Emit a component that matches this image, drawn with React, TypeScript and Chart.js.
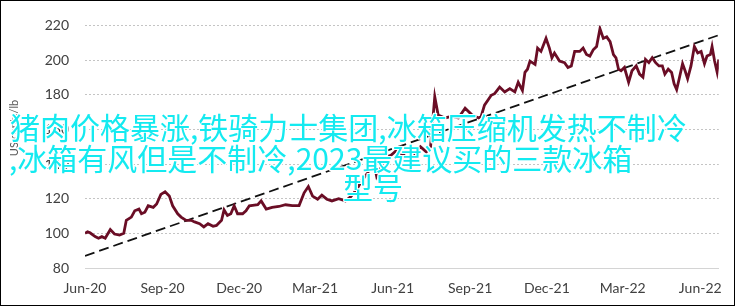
import React, { useEffect, useRef } from "react";
import { Chart, registerables } from "chart.js";

Chart.register(...registerables);

// Days since 1 Jun 2020 for each observation
const dayOffsets = [
  0, 3, 6, 12, 16, 20, 24, 30, 35, 41, 46, 49, 55, 59, 64, 67, 71, 75, 81, 85,
  90, 95, 100, 104, 110, 114, 120, 126, 130, 136, 141, 146, 152, 156, 162, 165, 169, 173, 177, 181,
  187, 191, 195, 201, 205, 209, 215, 222, 230, 238, 246, 254, 260, 265, 270, 276, 281, 287, 293, 301,
  309, 315, 322, 328, 335, 339, 343, 346, 351, 356, 363, 370, 377, 384, 391, 398, 405, 410, 415, 419,
  427, 435, 443, 451, 459, 467, 470, 474, 482, 486, 492, 498, 504, 510, 514, 519, 522, 525, 528, 534,
  537, 541, 547, 551, 554, 557, 563, 569, 573, 577, 581, 587, 591, 595, 599, 603, 607, 611, 615, 619,
  623, 627, 630, 633, 636, 640, 645, 649, 654, 658, 662, 665, 669, 673, 677, 681, 685, 688, 692, 696,
  699, 702, 705, 709, 712, 715, 719, 723, 727, 731, 735, 738, 742, 744, 747, 750, 752,
];

// Price, US cents/lb
const priceValues = [
  100, 100.9, 100.3, 98.1, 97.2, 98.1, 97.2, 102.2, 99.6, 99, 100, 107.5, 109.4, 113, 114, 111.3, 112.2, 115.9, 115, 116.9,
  122.5, 124, 121.6, 115.9, 111.3, 109.4, 107.5, 107.5, 106.6, 105.6, 103.7, 105.6, 104.1, 104.6, 107.5, 113.5, 110.3, 111.3, 115.9, 111.3,
  111.3, 113, 115.9, 116.3, 116.5, 118.7, 114, 115, 115.5, 116.5, 116, 116, 123.4, 127, 121.5, 119.7, 122, 119.7, 118.7, 120,
  118.7, 121, 125, 130, 134.7, 138, 140, 133, 138, 144, 145, 148, 145, 149, 146, 150, 147, 150, 178.8, 168.3,
  166.6, 167.5, 166.6, 172.2, 168.4, 166.6, 167.5, 174, 179.7, 180.6, 184.4, 181.6, 183.5, 181.6, 187.2, 182.5, 192.9, 194.7, 199.4, 197.5,
  206.9, 205, 212.5, 206.9, 201.3, 204.1, 199.4, 198.5, 195.7, 196.6, 205, 205, 206.9, 203.2, 202.3, 205.9, 207.8, 218.1, 212.5, 213.4,
  210.6, 203.2, 201.3, 194.7, 193.8, 195.7, 187.2, 193.8, 196.6, 191.9, 190.1, 200.4, 198.5, 201.3, 198.5, 196.6, 196.6, 191.9, 194.7, 192.9,
  186.3, 183, 189.2, 197.9, 193.8, 189.2, 196.6, 207.8, 204.1, 205, 197.9, 202.3, 203.2, 207.8, 199.4, 193, 200.4,
];

const trendDays = [0, 752];
const trendValues = [87, 214.4];

const xTickDays = [0, 92, 183, 273, 365, 457, 548, 638, 730];
const xTickLabels = ["Jun-20", "Sep-20", "Dec-20", "Mar-21", "Jun-21", "Sep-21", "Dec-21", "Mar-22", "Jun-22"];
const xMin = 0;
const xMax = 752;

const yMin = 80;
const yMax = 220;
const yStep = 10;
const yAxisTitle = "US cents/lb";

const overlayLines = [
  "猪肉价格暴涨,铁骑力士集团,冰箱压缩机发热不制冷",
  ",冰箱有风但是不制冷,2023最建议买的三款冰箱",
  "型号",
];

const yTitlePlugin = {
  id: "yTitleCustom",
  afterDraw(chart: any) {
    const ctx = chart.ctx;
    ctx.save();
    ctx.translate(13, 127);
    ctx.rotate(-Math.PI / 2);
    ctx.font = "11px Lato";
    ctx.fillStyle = "#595959";
    ctx.textAlign = "center";
    ctx.textBaseline = "middle";
    ctx.fillText(yAxisTitle, 0, 0);
    ctx.restore();
  },
};

export default function App() {
  const canvasRef = useRef<HTMLCanvasElement | null>(null);

  useEffect(() => {
    const canvas = canvasRef.current;
    if (!canvas) return;
    const priceData = dayOffsets.map((d, i) => ({ x: d, y: priceValues[i] }));
    const trendData = trendDays.map((d, i) => ({ x: d, y: trendValues[i] }));
    const chart = new Chart(canvas, {
      type: "line",
      data: {
        datasets: [
          {
            label: "Price",
            data: priceData,
            borderColor: "#6a0d25",
            borderWidth: 2.8,
            pointRadius: 0,
            tension: 0,
            fill: false,
          },
          {
            label: "Trend",
            data: trendData,
            borderColor: "#111111",
            borderWidth: 1.8,
            borderDash: [10, 5],
            pointRadius: 0,
            tension: 0,
            fill: false,
          },
        ],
      },
      options: {
        animation: false,
        responsive: true,
        maintainAspectRatio: false,
        layout: { padding: { left: 0, right: 12, top: 20, bottom: 0 } },
        plugins: {
          legend: { display: false },
          tooltip: { enabled: false },
          title: { display: false },
        },
        scales: {
          x: {
            type: "linear",
            min: xMin,
            max: xMax,
            afterBuildTicks: (scale: any) => {
              scale.ticks = xTickDays.map((v) => ({ value: v }));
            },
            afterFit: (scale: any) => {
              scale.height = 37;
            },
            grid: { display: false, drawTicks: false },
            border: { display: true, color: "#d4d4d4", width: 1 },
            ticks: {
              autoSkip: false,
              maxRotation: 0,
              padding: 12,
              color: "#404040",
              font: { family: "Lato", size: 14 },
              callback: (v: any) => {
                const i = xTickDays.indexOf(Number(v));
                return i >= 0 ? xTickLabels[i] : "";
              },
            },
          },
          y: {
            min: yMin,
            max: yMax,
            afterFit: (scale: any) => {
              scale.width = 84;
            },
            grid: {
              color: (c: any) => (c.tick && c.tick.value === yMin ? "rgba(0,0,0,0)" : "#c4c4c4"),
              lineWidth: 1,
              drawTicks: false,
            },
            border: { display: false, dash: [2, 2] },
            ticks: {
              stepSize: yStep,
              padding: 16,
              color: "#404040",
              font: { family: "Lato", size: 14 },
            },
          },
        },
      },
      plugins: [yTitlePlugin],
    });
    return () => chart.destroy();
  }, []);

  const textStyle: React.CSSProperties = {
    position: "absolute",
    whiteSpace: "nowrap",
    fontFamily: "'Noto Sans CJK SC', 'Noto Sans', sans-serif",
    fontSize: "30px",
    lineHeight: "30px",
    color: "#14eaf0",
    textShadow:
      "1px 0 0 #fff, -1px 0 0 #fff, 0 1px 0 #fff, 0 -1px 0 #fff, 1px 1px 0 #fff, -1px -1px 0 #fff, 1px -1px 0 #fff, -1px 1px 0 #fff",
    pointerEvents: "none",
  };

  return (
    <div
      style={{
        position: "fixed",
        left: 0,
        top: 0,
        width: "735px",
        height: "306px",
        border: "1px solid #000",
        boxSizing: "border-box",
        background: "#fff",
        overflow: "hidden",
      }}
    >
      <div style={{ position: "absolute", left: 0, top: 0, width: "733px", height: "304px" }}>
        <canvas ref={canvasRef} />
      </div>
      <div style={{ ...textStyle, left: "9px", top: "110px" }}>{overlayLines[0]}</div>
      <div style={{ ...textStyle, left: "8px", top: "141px" }}>{overlayLines[1]}</div>
      <div style={{ ...textStyle, left: "342px", top: "170px" }}>{overlayLines[2]}</div>
    </div>
  );
}
